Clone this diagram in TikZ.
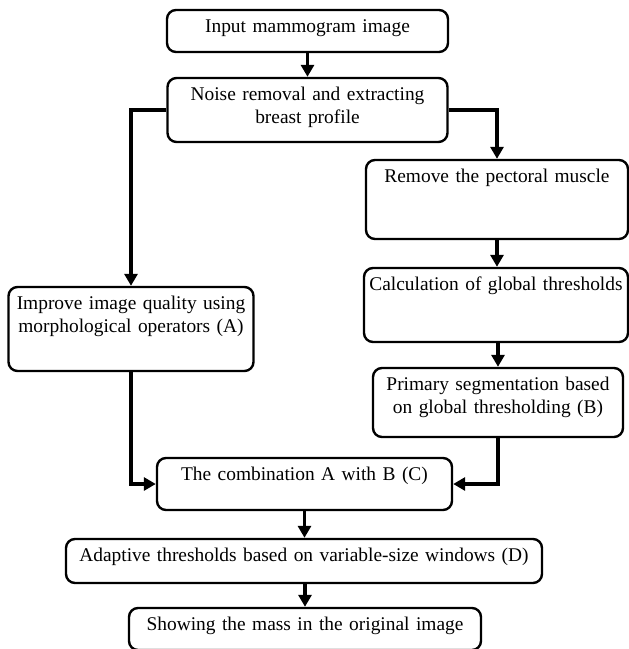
\documentclass[tikz,border=0pt]{standalone}
\usepackage{fontspec}
\setmainfont{Liberation Serif}
\usetikzlibrary{arrows.meta}
\tikzset{
  flowbox/.style={draw, line width=2.4pt, rounded corners=9pt, inner xsep=0pt, inner ysep=0pt,
    align=center, font=\fontsize{19.4}{22.5}\selectfont, text height=22.5pt},
  arr/.style={line width=3.3pt, -{Triangle[width=13pt,length=12pt]}}
}
\begin{document}
\begin{tikzpicture}[x=1pt,y=-1pt]
\useasboundingbox (0,0) rectangle (629,649);
% boxes: centre, width, height
\node[flowbox, text width=281pt, text depth=19.5pt] (B1) at (307.5,31) {Input mammogram image};
\node[flowbox, text width=280pt, text depth=41.5pt] (B2) at (307.5,110) {Noise removal and extracting\\breast profile};
\node[flowbox, text width=245pt, text depth=61.5pt] (A) at (131,329) {Improve image quality using\\morphological operators (A)};
\node[flowbox, text width=262pt, text depth=56.5pt] (R1) at (497,199.5) {Remove the pectoral muscle};
\node[flowbox, text width=264pt, text depth=51.5pt] (R2) at (496,305) {Calculation of global thresholds};
\node[flowbox, text width=250pt, text depth=46.5pt] (R3) at (498,402.5) {Primary segmentation based\\on global thresholding (B)};
\node[flowbox, text width=295pt, text depth=29.5pt] (C) at (304.5,484) {The combination A with B (C)};
\node[flowbox, text width=476pt, text depth=21.5pt] (D) at (304,561) {Adaptive thresholds based on variable-size windows (D)};
\node[flowbox, text width=352pt, text depth=19.5pt] (E) at (305,629) {Showing the mass in the original image};
% connectors
\draw[arr] (B1.south) -- (B2.north);
\draw[arr] (B2.west) -| (A.north);
\draw[arr] (B2.east) -| (R1.north);
\draw[arr] (R1.south) -- (R1.south |- R2.north);
\draw[arr] (R2.south -| R3.north) -- (R3.north);
\draw[arr] (A.south) |- (C.west);
\draw[arr] (R3.south) |- (C.east);
\draw[arr] (C.south) -- (C.south |- D.north);
\draw[arr] (D.south -| E.north) -- (E.north);
\end{tikzpicture}
\end{document}
